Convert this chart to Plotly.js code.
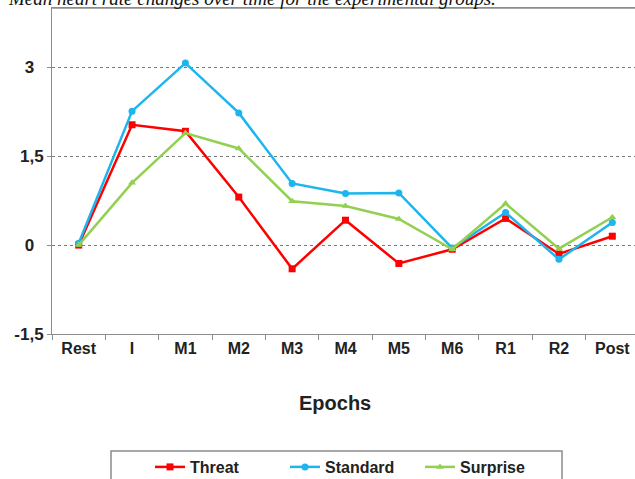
<!DOCTYPE html>
<html>
<head>
<meta charset="utf-8">
<script src="https://cdn.plot.ly/plotly-3.0.1.min.js"></script>
<style>
html,body{margin:0;padding:0;overflow:hidden;background:#fff;}
#chart{width:639px;height:479px;}
</style>
</head>
<body>
<div id="chart"></div>
<script>
var epochs = ['Rest','I','M1','M2','M3','M4','M5','M6','R1','R2','Post'];
var threat   = [0.00, 2.03, 1.92, 0.81, -0.40, 0.42, -0.31, -0.07, 0.45, -0.15, 0.15];
var standard = [0.03, 2.26, 3.07, 2.23, 1.04, 0.87, 0.88, -0.05, 0.55, -0.24, 0.38];
var surprise = [0.00, 1.05, 1.89, 1.63, 0.74, 0.66, 0.44, -0.07, 0.70, -0.06, 0.47];
var yTickVals = [-1.5, 0, 1.5, 3];
var yTickText = ['-1,5', '0', '1,5', '3'];
var titleText = 'Mean heart rate changes over time for the experimental groups.';

var NB = '\u00a0';
var yPad = ['', NB+NB, '', NB+NB];

function trace(name, y, color, symbol) {
  return {
    type: 'scatter', mode: 'lines+markers', name: name,
    x: epochs, y: y,
    line: {color: color, width: 2.5},
    marker: {color: color, symbol: symbol, size: 7}
  };
}

var data = [
  trace('Threat', threat, '#FF0000', 'square'),
  trace('Standard', standard, '#1CB5EE', 'circle'),
  trace('Surprise', surprise, '#92D050', 'triangle-up')
];

var W = 639, H = 479, L = 52, T = 8, B = 145;
var ph = H - T - B, pw = W - L;

var layout = {
  width: W, height: H,
  margin: {l: L, r: 0, t: T, b: B, pad: 0, autoexpand: false},
  paper_bgcolor: '#fff', plot_bgcolor: '#fff',
  showlegend: true,
  font: {family: 'Liberation Sans, Arial, sans-serif', color: '#222'},
  xaxis: {
    type: 'category',
    range: [-0.5, epochs.length - 0.5],
    showline: true, linecolor: '#8c8c8c', linewidth: 1, mirror: true,
    ticks: 'outside', ticklen: 5, tickcolor: '#8c8c8c', tickson: 'boundaries',
    showgrid: false, zeroline: false, automargin: false,
    tickfont: {family: 'Liberation Sans, Arial, sans-serif', size: 16, color: '#222', weight: 'bold'}
  },
  yaxis: {
    range: [-1.5, 4],
    tickvals: yTickVals,
    ticktext: yTickText.map(function(t, i){ return '<b>' + t + '</b>' + yPad[i]; }),
    showline: true, linecolor: '#8c8c8c', linewidth: 1, mirror: true,
    ticks: 'outside', ticklen: 4, tickcolor: '#8c8c8c',
    showgrid: true, gridcolor: '#7a7a7a', griddash: 'dot', gridwidth: 1,
    zeroline: false, automargin: false,
    tickfont: {family: 'Liberation Sans, Arial, sans-serif', size: 17, color: '#222'}
  },
  legend: {
    orientation: 'h',
    x: (150 - L) / pw, xanchor: 'left',
    y: -(467 - 334) / ph, yanchor: 'middle',
    entrywidth: 90, entrywidthmode: 'pixels',
    bgcolor: 'rgba(0,0,0,0)', borderwidth: 0,
    font: {family: 'Liberation Sans, Arial, sans-serif', size: 16, color: '#222', weight: 'bold'}
  },
  shapes: [
    {
      type: 'rect', xref: 'paper', yref: 'paper',
      x0: (111 - L) / pw, x1: (562 - L) / pw,
      y0: -(451 - 334) / ph, y1: -(490 - 334) / ph,
      line: {color: '#8c8c8c', width: 1.5}, fillcolor: 'rgba(0,0,0,0)'
    },
    {
      type: 'line', xref: 'paper', yref: 'paper',
      x0: 0, x1: 1, y0: 1, y1: 1,
      line: {color: '#8c8c8c', width: 1.5}
    }
  ],
  annotations: [
    {
      text: '<b>Epochs</b>', xref: 'paper', yref: 'paper',
      x: (335 - L) / pw, y: -(403 - 334) / ph, xanchor: 'center', yanchor: 'middle',
      showarrow: false,
      font: {family: 'Liberation Sans, Arial, sans-serif', size: 20, color: '#222'}
    },
    {
      text: '<i>' + titleText + '</i>', xref: 'paper', yref: 'paper',
      x: (6 - L) / pw, y: 1 + 9 / ph, xanchor: 'left', yanchor: 'middle',
      showarrow: false,
      font: {family: 'Liberation Serif, Times New Roman, serif', size: 19, color: '#111'}
    }
  ]
};

Plotly.newPlot('chart', data, layout, {displayModeBar: false, staticPlot: true});
</script>
</body>
</html>
